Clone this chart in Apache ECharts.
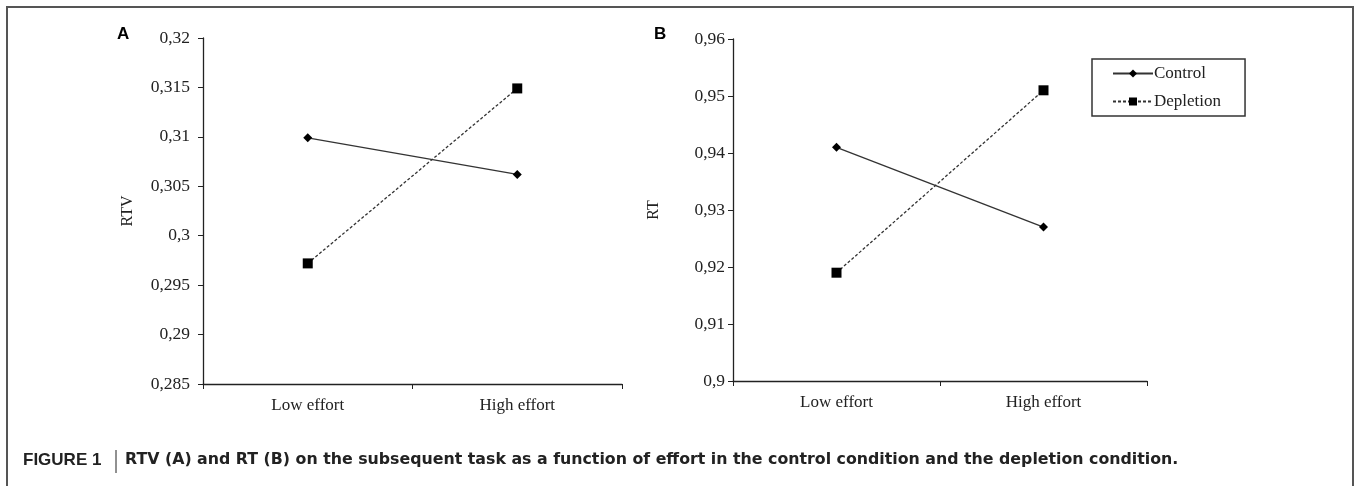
<!DOCTYPE html>
<html>
<head>
<meta charset="utf-8">
<script src="https://cdn.jsdelivr.net/npm/echarts@6/dist/echarts.min.js"></script>
<style>
  html, body { margin: 0; padding: 0; background: #fff; }
  #main { width: 1358px; height: 486px; }
</style>
</head>
<body>
<div id="main"></div>
<script>
// data
var categories = ['Low effort', 'High effort'];
var seriesNames = ['Control', 'Depletion'];
// panel A: RTV
var rtvControl = [0.3099, 0.3062];
var rtvDepletion = [0.2972, 0.3149];
var rtvTicks = [0.285, 0.29, 0.295, 0.3, 0.305, 0.31, 0.315, 0.32];
// panel B: RT
var rtControl = [0.941, 0.927];
var rtDepletion = [0.919, 0.951];
var rtTicks = [0.9, 0.91, 0.92, 0.93, 0.94, 0.95, 0.96];

var serif = '"Liberation Serif", "DejaVu Serif", serif';
var sans = '"Liberation Sans", Arial, sans-serif';

function commaFmt(v) {
    return String(parseFloat(v.toFixed(4))).replace('.', ',');
}

function xAxisFor(gridIndex) {
    return {
        type: 'category',
        gridIndex: gridIndex,
        data: categories,
        boundaryGap: true,
        axisLine: { lineStyle: { color: '#222', width: 1.3 } },
        axisTick: { show: true, interval: 0, length: 5, lineStyle: { color: '#222' } },
        axisLabel: { color: '#222', fontFamily: serif, fontSize: 17, margin: 13 }
    };
}

function yAxisFor(gridIndex, ticks, name, gap, labelGap) {
    return {
        type: 'value',
        gridIndex: gridIndex,
        min: ticks[0],
        max: ticks[ticks.length - 1],
        interval: Math.round((ticks[1] - ticks[0]) * 1000) / 1000,
        name: name,
        nameLocation: 'middle',
        nameGap: gap,
        nameTextStyle: { color: '#222', fontFamily: serif, fontSize: 16 },
        axisLine: { show: true, lineStyle: { color: '#222', width: 1.3 } },
        axisTick: { show: true, length: 5, lineStyle: { color: '#222' } },
        splitLine: { show: false },
        axisLabel: {
            color: '#222', fontFamily: serif, fontSize: 17.5, margin: labelGap,
            formatter: commaFmt
        }
    };
}

function lineSeries(name, data, idx) {
    var dashed = name === 'Depletion';
    return {
        name: name,
        type: 'line',
        xAxisIndex: idx,
        yAxisIndex: idx,
        data: data,
        symbol: dashed ? 'rect' : 'diamond',
        symbolSize: dashed ? 10 : 9,
        showAllSymbol: true,
        itemStyle: { color: '#000' },
        lineStyle: { color: '#333', width: 1.3, type: dashed ? [3, 2] : 'solid' },
        emphasis: { disabled: true },
        animation: false
    };
}

var chart = echarts.init(document.getElementById('main'));
var option = {
    backgroundColor: '#fff',
    animation: false,
    grid: [
        { left: 203, top: 38, width: 419, height: 346 },
        { left: 733, top: 39, width: 414, height: 342 }
    ],
    xAxis: [xAxisFor(0), xAxisFor(1)],
    yAxis: [
        yAxisFor(0, rtvTicks, 'RTV', 67, 13),
        yAxisFor(1, rtTicks, 'RT', 71, 8)
    ],
    legend: {
        data: seriesNames,
        orient: 'vertical',
        left: 1092,
        top: 59,
        itemWidth: 40,
        itemHeight: 10,
        itemGap: 11,
        padding: [6, 24, 6, 20],
        borderColor: '#333',
        borderWidth: 1.5,
        selectedMode: false,
        textStyle: { color: '#222', fontFamily: serif, fontSize: 17, padding: [0, 0, 0, -4] }
    },
    graphic: [
        {
            type: 'rect',
            shape: { x: 7, y: 7, width: 1346, height: 500 },
            style: { fill: 'none', stroke: '#555', lineWidth: 2 },
            silent: true
        },
        {
            type: 'text', left: 117, top: 26,
            style: { text: 'A', font: 'bold 17px ' + sans, fill: '#000' }
        },
        {
            type: 'text', left: 654, top: 26,
            style: { text: 'B', font: 'bold 17px ' + sans, fill: '#000' }
        },
        {
            type: 'text', left: 23, top: 452,
            style: { text: 'FIGURE 1', font: 'bold 17px ' + sans, fill: '#222' }
        },
        {
            type: 'line',
            shape: { x1: 116, y1: 450, x2: 116, y2: 473 },
            style: { stroke: '#222', lineWidth: 1 }
        },
        {
            type: 'text', left: 125, top: 452,
            style: {
                text: 'RTV (A) and RT (B) on the subsequent task as a function of effort in the control condition and the depletion condition.',
                font: 'bold 15.8px "DejaVu Sans", ' + sans, fill: '#222'
            }
        }
    ],
    series: [
        lineSeries('Control', rtvControl, 0),
        lineSeries('Depletion', rtvDepletion, 0),
        lineSeries('Control', rtControl, 1),
        lineSeries('Depletion', rtDepletion, 1)
    ]
};
chart.setOption(option);
</script>
</body>
</html>
